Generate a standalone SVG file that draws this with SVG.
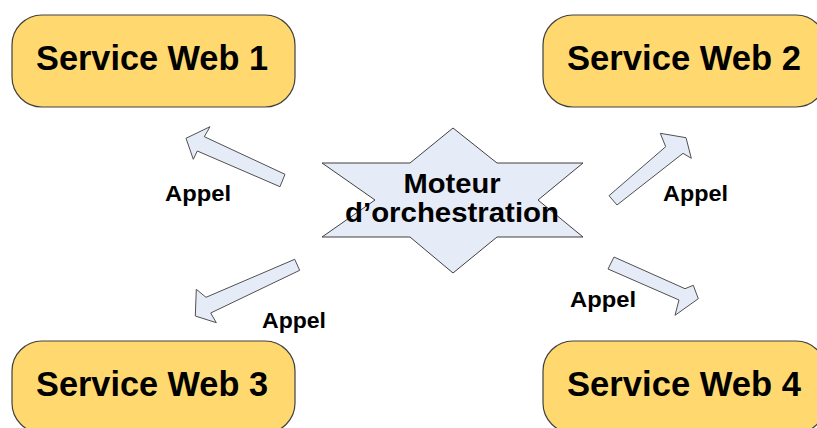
<svg xmlns="http://www.w3.org/2000/svg" width="817" height="428" viewBox="0 0 817 428">
<style>
.box{fill:#FFD970;stroke:#404040;stroke-width:1.2}
.btxt{font-family:"Liberation Sans",Arial,sans-serif;font-weight:bold;font-size:35px;fill:#000;text-anchor:middle}
.star{fill:#E6ECF7;stroke:#404040;stroke-width:1}
.stxt{font-family:"Liberation Sans",Arial,sans-serif;font-weight:bold;font-size:28px;fill:#000;text-anchor:middle}
.arr{fill:#E6ECF7;stroke:#505050;stroke-width:1;stroke-linejoin:miter}
.lbl{font-family:"Liberation Sans",Arial,sans-serif;font-weight:bold;font-size:22px;fill:#000}
</style>
<rect width="817" height="428" fill="#fff"/>
<g id="ws1">
<rect class="box" x="12" y="15" width="283" height="92" rx="30"/>
<text class="btxt" x="152" y="70" textLength="232" lengthAdjust="spacingAndGlyphs">Service Web 1</text>
</g>
<g id="ws2">
<rect class="box" x="543" y="15" width="283" height="92" rx="30"/>
<text class="btxt" x="684" y="70" textLength="234" lengthAdjust="spacingAndGlyphs">Service Web 2</text>
</g>
<g id="ws3">
<rect class="box" x="12" y="341" width="283" height="92" rx="30"/>
<text class="btxt" x="152" y="396" textLength="232" lengthAdjust="spacingAndGlyphs">Service Web 3</text>
</g>
<g id="ws4">
<rect class="box" x="543" y="341" width="283" height="92" rx="30"/>
<text class="btxt" x="684" y="396" textLength="234" lengthAdjust="spacingAndGlyphs">Service Web 4</text>
</g>
<g id="moteur">
<polygon class="star" points="453,128 497,163 583,163 538,200 583,237 497,237 453,273 410,237 322,237 375,200 322,163 410,163"/>
<text class="stxt" x="452" y="193" textLength="97" lengthAdjust="spacingAndGlyphs">Moteur</text>
<text class="stxt" x="452" y="222" textLength="214" lengthAdjust="spacingAndGlyphs">d’orchestration</text>
</g>
<g id="connectors">
<polygon class="arr" points="186,138.3 210,126.7 204.3,136.7 285,174.3 280,186.7 197.3,151 193.3,159.3"/>
<polygon class="arr" points="609,195.7 665.7,146.7 660.3,133.3 686,137.7 691.3,158.3 683,153.3 617,205"/>
<polygon class="arr" points="294.7,259.3 299.7,270.3 210.7,313 216.3,322.7 195.3,316 196.3,289.3 206,297.3"/>
<polygon class="arr" points="614,257 685,288.7 693.3,285.3 698.3,298.7 675,315.3 679,300 608,269"/>
<text class="lbl" x="165" y="201" textLength="66" lengthAdjust="spacingAndGlyphs">Appel</text>
<text class="lbl" x="663" y="201" textLength="65" lengthAdjust="spacingAndGlyphs">Appel</text>
<text class="lbl" x="262" y="328" textLength="64" lengthAdjust="spacingAndGlyphs">Appel</text>
<text class="lbl" x="570" y="307" textLength="66" lengthAdjust="spacingAndGlyphs">Appel</text>
</g>
</svg>
